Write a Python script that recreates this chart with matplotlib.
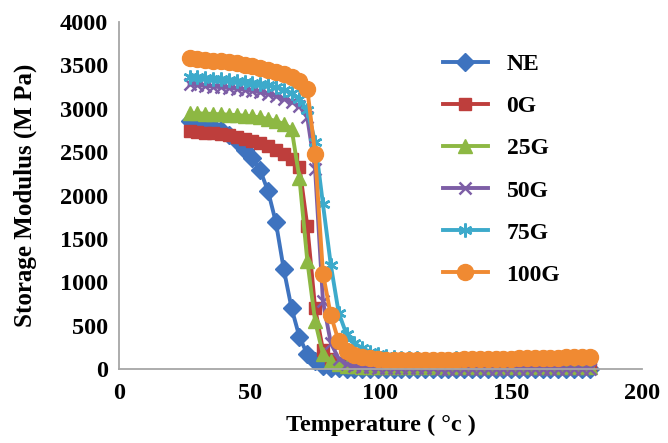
import matplotlib
matplotlib.use("Agg")
import matplotlib.pyplot as plt

temps = [27, 30, 33, 36, 39, 42, 45, 48, 51, 54, 57, 60, 63, 66, 69, 72, 75, 78, 81, 84, 87,
         90, 93, 96, 99, 102, 105, 108, 111, 114, 117, 120, 123, 126, 129, 132, 135, 138, 141,
         144, 147, 150, 153, 156, 159, 162, 165, 168, 171, 174, 177, 180]

ne = [2860, 2840, 2815, 2785, 2750, 2700, 2630, 2530, 2430, 2290, 2050, 1690, 1150, 700, 370,
      170, 90, 40, 15, 8, 5,
      5, 5, 4, 4, 4, 4, 4, 4, 4, 4, 4, 4, 4, 4, 4, 4, 4, 4, 4, 4, 4, 4, 4, 4, 4, 4, 4, 4, 4, 4, 4]

g0 = [2740, 2732, 2724, 2716, 2708, 2698, 2680, 2655, 2628, 2600, 2568, 2530, 2480, 2425, 2330,
      1650, 700, 220, 110, 70, 55,
      48, 45, 43, 42, 40, 40, 39, 38, 38, 37, 37, 36, 36, 36, 35, 35, 35, 35, 35, 35, 35, 35,
      35, 35, 35, 35, 35, 35, 35, 35, 35]

g25 = [2950, 2947, 2944, 2940, 2936, 2932, 2927, 2920, 2912, 2900, 2882, 2858, 2825, 2770, 2200,
       1250, 550, 170, 90, 55, 40,
       32, 28, 25, 23, 22, 21, 20, 20, 20, 20, 20, 20, 20, 20, 20, 20, 20, 20, 20, 20, 20, 20,
       20, 20, 20, 20, 20, 20, 20, 20, 20]

g50 = [3280, 3272, 3264, 3256, 3248, 3240, 3230, 3220, 3205, 3190, 3170, 3145, 3115, 3080, 3030,
       2900, 2300, 780, 300, 120, 60,
       35, 25, 18, 14, 12, 10, 9, 8, 7, 6, 6, 5, 5, 5, 5, 5, 5, 5, 5, 5, 5, 5, 5, 5, 5, 5, 5, 5,
       5, 5, 5]

g75 = [3370, 3362, 3355, 3348, 3340, 3332, 3324, 3314, 3302, 3288, 3270, 3248, 3220, 3180, 3110,
       2980, 2620, 1900, 1200, 650, 400,
       300, 240, 200, 170, 150, 140, 132, 126, 122, 120, 120, 120, 121, 122, 123, 124, 125, 126,
       127, 128, 129, 130, 130, 131, 132, 133, 134, 135, 136, 137, 138]

g100 = [3580, 3572, 3564, 3555, 3545, 3535, 3522, 3508, 3492, 3474, 3452, 3428, 3400, 3365, 3315,
        3230, 2480, 1100, 620, 320, 210,
        160, 138, 122, 112, 106, 102, 100, 100, 101, 103, 104, 106, 107, 108, 110, 111, 113, 114,
        116, 118, 120, 122, 124, 126, 128, 130, 132, 134, 136, 138, 140]

labels = ["NE", "0G", "25G", "50G", "75G", "100G"]
series = [ne, g0, g25, g50, g75, g100]
colors = ["#3E73BF", "#BE3E3C", "#8DB843", "#7D5EA6", "#3DAACB", "#F08A32"]
markers = ["D", "s", "^", "x", (6, 2, 0), "o"]
msizes = [9, 9, 10, 9, 10, 11.5]

xticks = [0, 50, 100, 150, 200]
yticks = [0, 500, 1000, 1500, 2000, 2500, 3000, 3500, 4000]

serif = ["Liberation Serif", "DejaVu Serif"]

fig = plt.figure(figsize=(6.68, 4.43), dpi=100)
ax = fig.add_axes([119 / 668, 1 - 369 / 443, (642 - 119) / 668, (369 - 22) / 443])

for vals, lab, col, mk, ms in zip(series, labels, colors, markers, msizes):
    ax.plot(temps, vals, color=col, marker=mk, markersize=ms, lw=2.8,
            markeredgewidth=1.8 if mk in ("x", (6, 2, 0)) else 1.0,
            markeredgecolor=col, label=lab, clip_on=False)

ax.set_xlim(0, 200)
ax.set_ylim(0, 4000)
ax.set_xticks(xticks)
ax.set_yticks(yticks)
ax.tick_params(length=0, labelsize=17.5)
ax.tick_params(axis="y", pad=8)
ax.tick_params(axis="x", pad=10)
for lbl in ax.get_xticklabels() + ax.get_yticklabels():
    lbl.set_family(serif)
    lbl.set_fontweight("bold")

for s in ["top", "right"]:
    ax.spines[s].set_visible(False)
for s in ["left", "bottom"]:
    ax.spines[s].set_color("#A6A6A6")
    ax.spines[s].set_linewidth(1.3)

ax.set_xlabel("Temperature ( °c )", fontsize=17.5, family=serif, fontweight="bold", labelpad=8)
ax.set_ylabel("Storage Modulus (M Pa)", fontsize=18, family=serif, fontweight="bold", labelpad=16)

leg = fig.legend(loc="upper left", bbox_to_anchor=(431 / 668, 1 - 42 / 443),
                 frameon=False, prop={"family": serif, "weight": "bold", "size": 17},
                 handlelength=1.9, handletextpad=0.8, labelspacing=0.87, borderpad=0)

fig.savefig("out.png", dpi=100)
